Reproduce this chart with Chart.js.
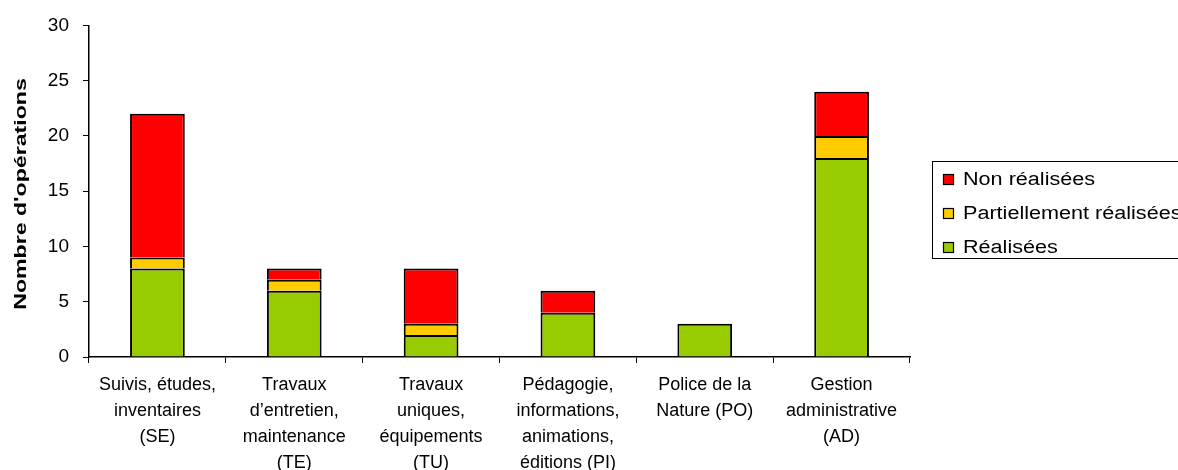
<!DOCTYPE html>
<html>
<head>
<meta charset="utf-8">
<script src="https://cdn.jsdelivr.net/npm/chart.js@4/dist/chart.umd.min.js"></script>
<style>
  html, body { margin: 0; padding: 0; background: #fff; }
  #wrap { width: 1178px; height: 470px; position: relative; }
</style>
</head>
<body>
<div id="wrap"><canvas id="opsChart"></canvas></div>
<script>
const categories = [
    ["Suivis, études,", "inventaires", "(SE)"],
    ["Travaux", "d\u2019entretien,", "maintenance", "(TE)"],
    ["Travaux", "uniques,", "équipements", "(TU)"],
    ["Pédagogie,", "informations,", "animations,", "éditions (PI)"],
    ["Police de la", "Nature (PO)"],
    ["Gestion", "administrative", "(AD)"]
];
const realisees = [8, 6, 2, 4, 3, 18];
const partielles = [1, 1, 1, 0, 0, 2];
const nonRealisees = [13, 1, 5, 2, 0, 4];
const yTicks = [0, 5, 10, 15, 20, 25, 30];
const yTitle = "Nombre d'opérations";

const FONT = "'Liberation Sans', Arial, sans-serif";

// legend drawn as a boxed list, like the original spreadsheet chart
const boxLegend = {
    id: "boxLegend",
    afterDraw(chart) {
        const ctx = chart.ctx;
        const items = chart.data.datasets.slice().reverse();
        const x = 932, y = 161, w = 270, h = 97;
        ctx.save();
        ctx.strokeStyle = "#000";
        ctx.lineWidth = 1;
        ctx.strokeRect(x + 0.5, y + 0.5, w, h);
        ctx.textBaseline = "middle";
        items.forEach((ds, i) => {
            const cy = y + 18 + i * 34;
            ctx.fillStyle = ds.backgroundColor;
            ctx.fillRect(x + 11, cy - 5, 10, 10);
            ctx.lineWidth = 1.2;
            ctx.strokeRect(x + 11.5, cy - 4.5, 10, 10);
            ctx.save();
            ctx.translate(x + 31, cy + 1);
            ctx.scale(1.2, 1);
            ctx.font = "18px " + FONT;
            ctx.fillStyle = "#000";
            ctx.fillText(ds.label, 0, 0);
            ctx.restore();
        });
        ctx.restore();
    }
};

// rotated axis title, slightly stretched along its length
const axisTitle = {
    id: "axisTitle",
    afterDraw(chart) {
        const ctx = chart.ctx;
        ctx.save();
        ctx.translate(21, 194);
        ctx.rotate(-Math.PI / 2);
        ctx.scale(1.36, 1);
        ctx.font = "bold 17px " + FONT;
        ctx.fillStyle = "#000";
        ctx.textAlign = "center";
        ctx.textBaseline = "middle";
        ctx.fillText(yTitle, 0, 0);
        ctx.restore();
    }
};

document.addEventListener("DOMContentLoaded", function () {
    const ctx = document.getElementById("opsChart").getContext("2d");
    new Chart(ctx, {
        type: "bar",
        data: {
            labels: categories,
            datasets: [
                { label: "Réalisées", data: realisees, backgroundColor: "#99CC00" },
                { label: "Partiellement réalisées", data: partielles, backgroundColor: "#FFCC00" },
                { label: "Non réalisées", data: nonRealisees, backgroundColor: "#FF0000" }
            ].map(d => Object.assign(d, {
                borderColor: "#000",
                borderWidth: 2,
                barPercentage: 0.4,
                categoryPercentage: 1
            }))
        },
        options: {
            responsive: true,
            maintainAspectRatio: false,
            animation: false,
            layout: { padding: { top: 24, right: 268, left: 0, bottom: 0 } },
            plugins: { legend: { display: false }, tooltip: { enabled: false } },
            scales: {
                x: {
                    stacked: true,
                    afterFit: s => { s.height = 113; },
                    grid: { display: true, drawOnChartArea: false, offset: true, tickLength: 6, color: "#000", lineWidth: 1 },
                    border: { color: "#000", width: 1.5 },
                    ticks: {
                        color: "#000", maxRotation: 0, autoSkip: false, padding: 9,
                        font: { family: FONT, size: 18, lineHeight: 1.45 }
                    }
                },
                y: {
                    stacked: true,
                    min: 0, max: 30,
                    afterFit: s => { s.width = 89; },
                    afterBuildTicks: s => { s.ticks = yTicks.map(v => ({ value: v })); },
                    grid: { display: true, drawOnChartArea: false, tickLength: 6, color: "#000", lineWidth: 1 },
                    border: { color: "#000", width: 1.5 },
                    ticks: { color: "#000", padding: 14, font: { family: FONT, size: 19 } }
                }
            }
        },
        plugins: [boxLegend, axisTitle]
    });
});
</script>
</body>
</html>
